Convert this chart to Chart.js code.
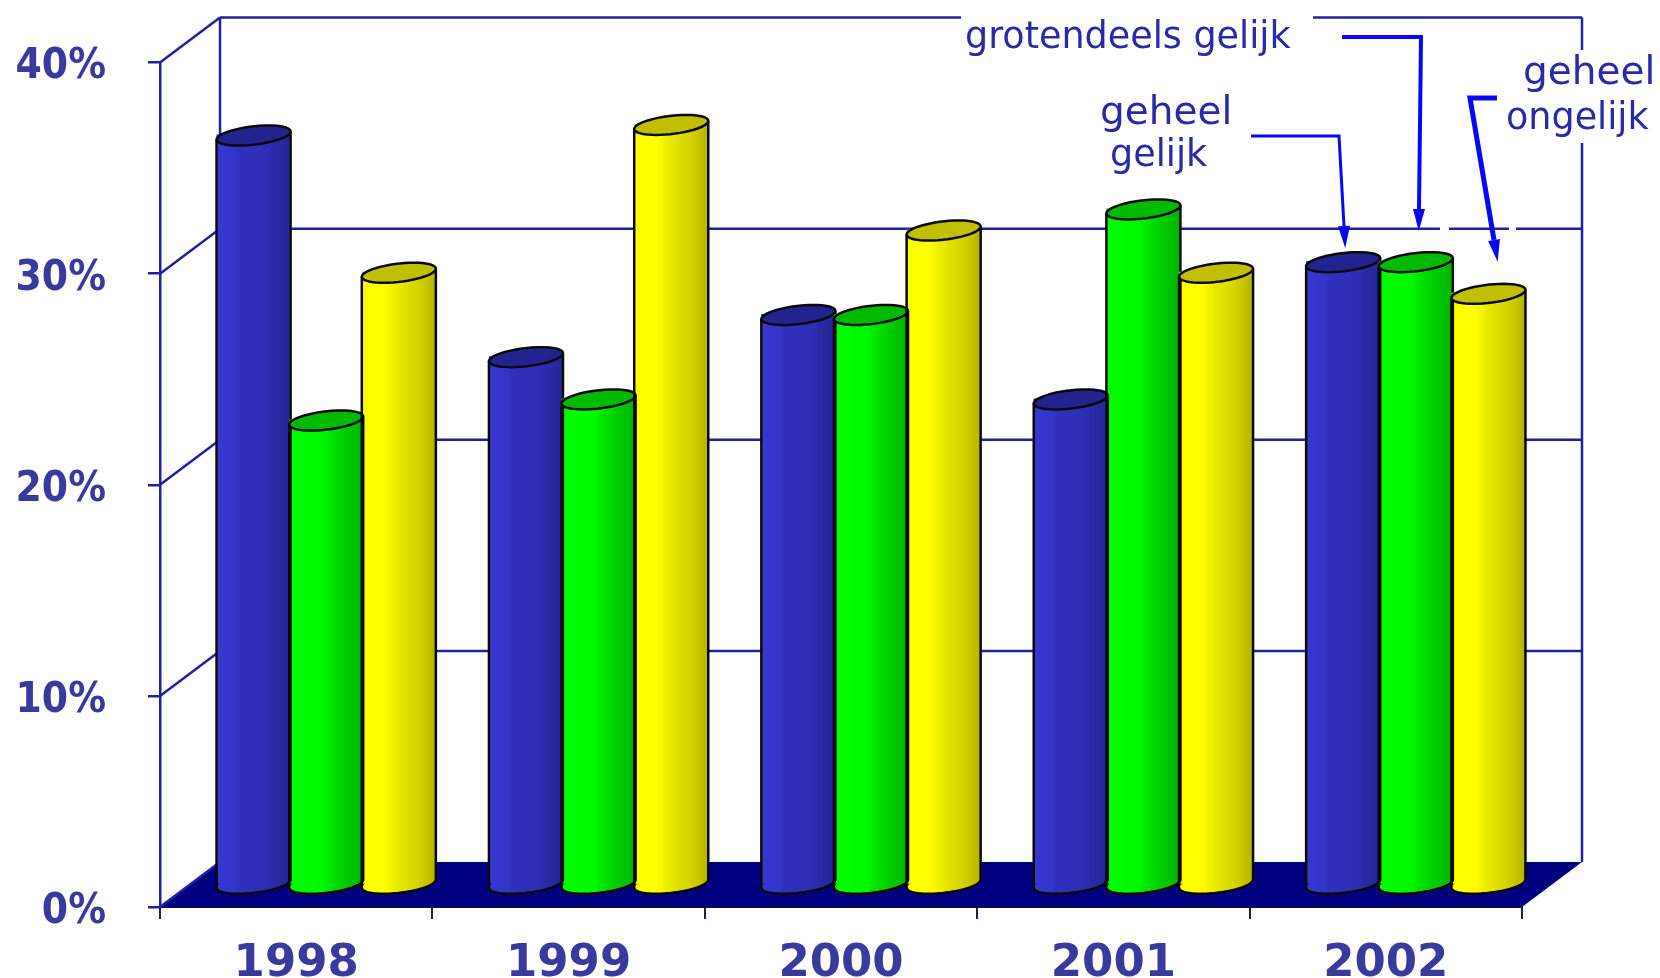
<!DOCTYPE html>
<html>
<head>
<meta charset="utf-8">
<style>html,body{margin:0;padding:0;background:#fff}canvas{display:block}</style>
<script src="https://cdn.jsdelivr.net/npm/chart.js@4"></script>
</head>
<body>
<canvas id="c" width="1660" height="978"></canvas>
<script>
const categories = ['1998', '1999', '2000', '2001', '2002'];
const geheelGelijk = [35.5, 25, 27, 23, 29.5];
const grotendeelsGelijk = [22, 23, 27, 32, 29.5];
const geheelOngelijk = [29, 36, 31, 29, 28];
const yTicks = [0, 10, 20, 30, 40];

const LINE = '#2020a0', TXT = '#3a3a9e', NOTE = '#2a2aa8', ARROW = '#0808f8';
const DEPTH = {x: 60, y: -45};
const MID = {x: 30, y: -22};
const CAP = {x: 15, y: -10};

const looks = [
  {stops: [[0,'#3838d2'],[.25,'#3434c6'],[.3,'#3030bc'],[.72,'#2e2eb4'],[.78,'#2a2aa4'],[1,'#26269a']], cap: '#23238f'},
  {stops: [[0,'#00ff00'],[.45,'#00f800'],[.6,'#00e000'],[.8,'#00c800'],[1,'#00b400']], cap: '#00ba00'},
  {stops: [[0,'#ffff00'],[.3,'#ffff00'],[.5,'#e8e800'],[.8,'#d0d000'],[1,'#b4b400']], cap: '#c0c000'}
];

function barFill(c) {
  const look = looks[c.datasetIndex];
  if (c.dataIndex === undefined) return look.stops[0][1];
  const sx = c.chart.scales.x;
  if (!sx) return look.stops[0][1];
  const cw = sx.width / categories.length;
  const w = cw * 0.8 / 3;
  const centre = sx.getPixelForValue(c.dataIndex) + (c.datasetIndex - 1) * w;
  if (!isFinite(centre) || !isFinite(w) || w <= 0) return look.stops[0][1];
  const g = c.chart.ctx.createLinearGradient(centre - w / 2, 0, centre + w / 2, 0);
  look.stops.forEach(s => g.addColorStop(s[0], s[1]));
  return g;
}

function ellipsePoint(a, t) {
  return [a * Math.cos(t) + CAP.x * Math.sin(t), CAP.y * Math.sin(t)];
}
function tracePath(ctx, cx, cy, a, t0, t1, move) {
  const n = 48;
  for (let i = 0; i <= n; i++) {
    const p = ellipsePoint(a, t0 + (t1 - t0) * i / n);
    if (i === 0 && move) ctx.moveTo(cx + p[0], cy + p[1]); else ctx.lineTo(cx + p[0], cy + p[1]);
  }
}

const scene = {
  id: 'scene',
  beforeDatasetsDraw(chart) {
    const {ctx, scales: {x: sx, y: sy}} = chart;
    const L = sx.left, R = sx.right;
    const y0 = sy.getPixelForValue(0), yT = sy.getPixelForValue(40);
    ctx.save();
    ctx.fillStyle = '#000080';
    ctx.beginPath();
    ctx.moveTo(L, y0); ctx.lineTo(R, y0);
    ctx.lineTo(R + DEPTH.x, y0 + DEPTH.y); ctx.lineTo(L + DEPTH.x, y0 + DEPTH.y);
    ctx.closePath(); ctx.fill();
    ctx.strokeStyle = LINE; ctx.lineWidth = 2.5;
    const seg = (a, b, c, d) => { ctx.beginPath(); ctx.moveTo(a, b); ctx.lineTo(c, d); ctx.stroke(); };
    yTicks.forEach(v => {
      const py = sy.getPixelForValue(v);
      seg(L, py, L + DEPTH.x, py + DEPTH.y);
      if (v > 0 && v < 40) seg(L + DEPTH.x, py + DEPTH.y, R + DEPTH.x, py + DEPTH.y);
    });
    // back wall, interrupted where the notes sit
    const bl = L + DEPTH.x, br = R + DEPTH.x, bt = yT + DEPTH.y, bb = y0 + DEPTH.y;
    seg(bl, bb, bl, bt);
    seg(bl, bt, 961, bt);
    seg(1313, bt, br, bt);
    seg(br, bt, br, 50);
    seg(br, 143, br, bb);
    // gaps in the 30% line near the arrows
    const g30 = sy.getPixelForValue(30) + DEPTH.y;
    ctx.strokeStyle = '#fff'; ctx.lineWidth = 4;
    seg(1440, g30, 1449, g30);
    seg(1509, g30, 1516, g30);
    ctx.restore();
  },
  beforeDatasetDraw(chart) {
    chart.ctx.save();
    chart.ctx.translate(MID.x, MID.y);
  },
  afterDatasetDraw(chart) {
    chart.ctx.restore();
  },
  afterDatasetsDraw(chart) {
    const ctx = chart.ctx;
    ctx.save();
    ctx.translate(MID.x, MID.y);
    [0, 1, 2].forEach(ds => {
      const look = looks[ds];
      chart.getDatasetMeta(ds).data.forEach(el => {
        const R = el.width / 2 + 0.7;
        const a = Math.sqrt(R * R - CAP.x * CAP.x);
        const tR = Math.atan2(CAP.x, a);
        const tL = Math.PI + tR;
        const cx = el.x, top = el.y, base = el.base;
        const dy = CAP.y * Math.sin(tR);
        ctx.lineWidth = 2.5;
        ctx.strokeStyle = '#0a0a0a';
        ctx.lineJoin = 'round';
        // rounded foot
        ctx.fillStyle = el.options.backgroundColor;
        ctx.beginPath();
        tracePath(ctx, cx, base, a, 0, Math.PI * 2, true);
        ctx.closePath(); ctx.fill();
        // right shoulder under the cap
        ctx.beginPath();
        ctx.moveTo(cx + R, top + dy); ctx.lineTo(cx + R, top + 1); ctx.lineTo(cx + a, top + 1);
        ctx.closePath(); ctx.fill();
        // outline of sides and foot
        ctx.beginPath();
        ctx.moveTo(cx - R, top - dy);
        ctx.lineTo(cx - R, base - dy);
        tracePath(ctx, cx, base, a, tL, tR + Math.PI * 2, false);
        ctx.lineTo(cx + R, top + dy);
        ctx.stroke();
        // top cap
        ctx.fillStyle = look.cap;
        ctx.beginPath();
        tracePath(ctx, cx, top, a, 0, Math.PI * 2, true);
        ctx.closePath(); ctx.fill();
        ctx.beginPath();
        ctx.moveTo(cx - R, top - dy); ctx.lineTo(cx - R, top - 1); ctx.lineTo(cx - a, top - 1);
        ctx.closePath(); ctx.fill();
        ctx.beginPath();
        tracePath(ctx, cx, top, a, 0, Math.PI * 2, true);
        ctx.closePath(); ctx.stroke();
      });
    });
    ctx.restore();
  },
  afterDraw(chart) {
    const ctx = chart.ctx;
    ctx.save();
    ctx.fillStyle = NOTE;
    ctx.textBaseline = 'alphabetic';
    ctx.textAlign = 'left';
    [['grotendeels gelijk', 965, 48, 36.5], ['geheel', 1100, 124, 39], ['gelijk', 1110, 166, 36.5],
     ['geheel', 1523, 84, 39], ['ongelijk', 1506, 129, 36.5]].forEach(t => {
      ctx.font = t[3] + 'px "DejaVu Sans"';
      ctx.fillText(t[0], t[1], t[2]);
    });
    const arrow = (pts, w) => {
      ctx.strokeStyle = ARROW; ctx.fillStyle = ARROW; ctx.lineWidth = w; ctx.lineJoin = 'miter';
      ctx.beginPath();
      pts.forEach((p, i) => i ? ctx.lineTo(p[0], p[1]) : ctx.moveTo(p[0], p[1]));
      ctx.stroke();
      const e = pts[pts.length - 1], s = pts[pts.length - 2];
      const ang = Math.atan2(e[1] - s[1], e[0] - s[0]);
      const len = 22, hw = 6;
      const tip = [e[0] + Math.cos(ang) * len, e[1] + Math.sin(ang) * len];
      ctx.beginPath();
      ctx.moveTo(tip[0], tip[1]);
      ctx.lineTo(e[0] - Math.sin(ang) * hw, e[1] + Math.cos(ang) * hw);
      ctx.lineTo(e[0] + Math.sin(ang) * hw, e[1] - Math.cos(ang) * hw);
      ctx.closePath(); ctx.fill();
    };
    arrow([[1342, 37], [1421, 37], [1419, 209]], 4);
    arrow([[1251, 136], [1339, 136], [1344, 226]], 3);
    arrow([[1497, 98], [1470, 98], [1494, 240]], 5);
    ctx.restore();
  }
};

new Chart(document.getElementById('c'), {
  type: 'bar',
  data: {
    labels: categories,
    datasets: [
      {label: 'geheel gelijk', data: geheelGelijk},
      {label: 'grotendeels gelijk', data: grotendeelsGelijk},
      {label: 'geheel ongelijk', data: geheelOngelijk}
    ].map(d => Object.assign(d, {backgroundColor: barFill, borderWidth: 0, clip: false, categoryPercentage: 0.8, barPercentage: 1}))
  },
  plugins: [scene],
  options: {
    responsive: false,
    animation: false,
    events: [],
    layout: {padding: {top: 62.5, right: 138, left: 0, bottom: 0}},
    plugins: {legend: {display: false}, title: {display: false}, tooltip: {enabled: false}},
    scales: {
      x: {
        offset: true,
        afterFit(s) { s.height = 71; },
        border: {color: '#101040', width: 2},
        grid: {drawOnChartArea: false, drawTicks: true, tickLength: 12, color: '#202040', lineWidth: 2, offset: true},
        ticks: {color: TXT, maxRotation: 0, padding: 18, font: {family: '"DejaVu Sans"', weight: 'bold', size: 45}}
      },
      y: {
        min: 0, max: 40,
        afterFit(s) { s.width = 160; s.paddingTop = 0; s.paddingBottom = 0; },
        border: {color: LINE, width: 2.5},
        grid: {drawOnChartArea: false, drawTicks: true, tickLength: 12, color: LINE, lineWidth: 2.5},
        ticks: {
          color: TXT, stepSize: 10, padding: 42, labelOffset: 5,
          callback: v => v + '%',
          font: {family: '"DejaVu Sans Condensed","DejaVu Sans"', weight: 'bold', size: 42}
        }
      }
    }
  }
});
</script>
</body>
</html>
